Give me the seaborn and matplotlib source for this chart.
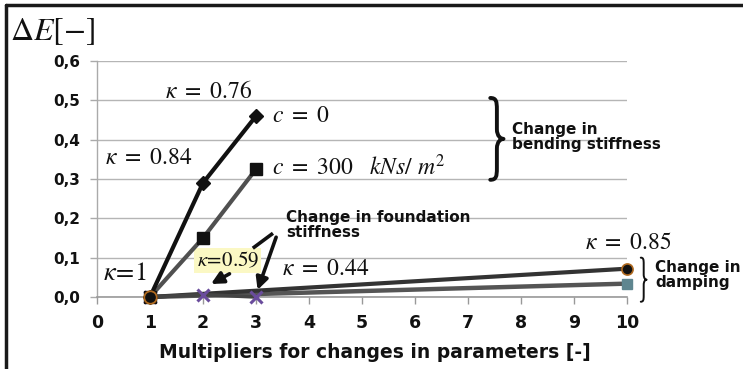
import numpy as np
import pandas as pd
import seaborn as sns
import matplotlib
matplotlib.use("Agg")
import matplotlib.pyplot as plt
from matplotlib.path import Path
from matplotlib.patches import PathPatch
from matplotlib.lines import Line2D

# ---- data -------------------------------------------------------------
bend_x = [1, 2, 3]
bend_c0 = [0.0, 0.29, 0.46]          # c = 0
bend_c300 = [0.0, 0.15, 0.325]       # c = 300 kNs/m^2
found_x = [1, 2, 3]
found_y = [0.0, 0.006, 0.0]
damp_x = [1, 10]
damp_a = [0.0, 0.072]
damp_b = [0.0, 0.034]
xticks = list(range(0, 11))
yticks = [0.0, 0.1, 0.2, 0.3, 0.4, 0.5, 0.6]
ytick_labels = ["0,0", "0,1", "0,2", "0,3", "0,4", "0,5", "0,6"]

sns.set_theme(style="white")
plt.rcParams["font.family"] = ["DejaVu Sans"]
plt.rcParams["mathtext.fontset"] = "stix"

W, H = 743, 369
fig = plt.figure(figsize=(W / 100, H / 100), dpi=100)
ax = fig.add_axes([97 / W, 1 - 297 / H, 530 / W, 236 / H])

# ---- series -----------------------------------------------------------
def draw(x, y, color, lw, marker, ms, mfc, mec, mew=1.0, zorder=3):
    df = pd.DataFrame({"x": x, "y": y})
    sns.lineplot(data=df, x="x", y="y", ax=ax, color=color, lw=lw,
                 marker=marker, markersize=ms, markerfacecolor=mfc,
                 markeredgecolor=mec, markeredgewidth=mew,
                 clip_on=False, zorder=zorder, legend=False)

draw(damp_x, damp_b, "#555555", 3.2, "s", 7, "#5f8690", "#5f8690", zorder=3)
draw(damp_x, damp_a, "#333333", 3.0, "o", 8, "#111111", "#b06a20", 1.2, zorder=3)
draw(found_x, found_y, "#444444", 2.6, "x", 8, "#6a4c9c", "#6a4c9c", 2.2, zorder=4)
draw(bend_x, bend_c300, "#505050", 3.0, "s", 8, "#111111", "#111111", zorder=5)
draw(bend_x, bend_c0, "#111111", 3.0, "D", 7, "#111111", "#111111", zorder=6)
# common origin point
ax.plot([1], [0], "o", ms=9, mfc="#111111", mec="#b06a20", mew=1.3,
        clip_on=False, zorder=7)

# ---- axes -------------------------------------------------------------
ax.set_xlim(0, 10)
ax.set_ylim(0, 0.6)
ax.set_xticks(xticks)
ax.set_yticks(yticks)
ax.set_yticklabels(ytick_labels)
ax.tick_params(axis="x", labelsize=12.5, length=5, width=1, color="#999999",
               direction="out", pad=7)
ax.tick_params(axis="y", labelsize=11, length=5, width=1, color="#aaaaaa",
               direction="out", pad=7)
for lab in ax.get_xticklabels() + ax.get_yticklabels():
    lab.set_fontweight("bold")
    lab.set_color("#111111")
ax.tick_params(axis="both", bottom=True, left=True)
ax.grid(axis="y", color="#b5b5b5", lw=1.0)
ax.grid(axis="x", visible=False)
for s in ["top", "right"]:
    ax.spines[s].set_visible(False)
ax.spines["left"].set_color("#aaaaaa")
ax.spines["bottom"].set_color("#999999")
ax.spines["left"].set_linewidth(1.0)
ax.spines["bottom"].set_linewidth(1.2)
ax.set_xlabel("Multipliers for changes in parameters [-]", fontsize=13.5,
              fontweight="bold", color="#111111")
ax.xaxis.set_label_coords(0.525, -0.195)
ax.set_ylabel("")

# ---- labels -----------------------------------------------------------
ms = dict(fontsize=17, va="center", ha="left", color="#111111")
ax.text(1.28, 0.524, r"$\kappa\ =\ 0.76$", **ms)
ax.text(3.30, 0.462, r"$c\ =\ 0$", **ms)
ax.text(0.15, 0.356, r"$\kappa\ =\ 0.84$", **ms)
ax.text(3.30, 0.33, r"$c\ =\ 300\ \ \ kNs/\ m^2$", **ms)
ax.text(0.11, 0.062, r"$\kappa\!=\!1$", fontsize=19, va="center", ha="left",
        color="#111111")
ax.text(1.88, 0.093, r"$\kappa\!=\!0.59$", fontsize=15, va="center", ha="left",
        color="#111111",
        bbox=dict(boxstyle="square,pad=0.12", fc="#fbf8c4", ec="none"))
ax.text(3.49, 0.074, r"$\kappa\ =\ 0.44$", **ms)
ax.text(9.21, 0.140, r"$\kappa\ =\ 0.85$", **ms)

bs = dict(fontsize=11, fontweight="bold", va="top", ha="left",
          color="#111111", linespacing=1.0)
ax.text(3.57, 0.222, "Change in foundation\nstiffness", **bs)
ax.text(7.83, 0.446, "Change in\nbending stiffness", **bs)
ax.text(10.53, 0.094, "Change in\ndamping", clip_on=False, **bs)

# pointers to the foundation-stiffness points
arrow = dict(arrowstyle="-|>,head_width=0.3,head_length=0.6",
             color="#111111", lw=2.6, shrinkA=0, shrinkB=0)
ax.annotate("", xy=(3.03, 0.018), xytext=(3.38, 0.152), arrowprops=arrow)
ax.annotate("", xy=(2.15, 0.033), xytext=(2.5, 0.059), arrowprops=arrow)
ax.plot([3.32, 2.94], [0.162, 0.124], color="#111111", lw=2.6,
        solid_capstyle="butt", zorder=5)


def brace(x0, y0, y1, w, lw):
    """Right-facing curly brace drawn in data coordinates."""
    ym = (y0 + y1) / 2
    h = y1 - y0
    xm = x0 + w * 0.5
    verts = [
        (x0, y1),
        (xm - w * 0.05, y1), (xm, y1 - h * 0.04), (xm, y1 - h * 0.14),
        (xm, ym + h * 0.12),
        (xm, ym + h * 0.03), (x0 + w * 0.8, ym), (x0 + w, ym),
        (x0 + w * 0.8, ym), (xm, ym - h * 0.03), (xm, ym - h * 0.12),
        (xm, y0 + h * 0.14),
        (xm, y0 + h * 0.04), (xm - w * 0.05, y0), (x0, y0),
    ]
    codes = [Path.MOVETO,
             Path.CURVE4, Path.CURVE4, Path.CURVE4,
             Path.LINETO,
             Path.CURVE4, Path.CURVE4, Path.CURVE4,
             Path.CURVE4, Path.CURVE4, Path.CURVE4,
             Path.LINETO,
             Path.CURVE4, Path.CURVE4, Path.CURVE4]
    ax.add_patch(PathPatch(Path(verts, codes), fc="none", ec="#111111",
                           lw=lw, clip_on=False, zorder=6,
                           capstyle="round", joinstyle="round"))


brace(7.42, 0.298, 0.506, 0.25, 2.8)
brace(10.26, -0.012, 0.1, 0.11, 1.4)

# ---- figure text and frame -------------------------------------------
fig.text(10 / W, 1 - 32 / H, r"$\Delta E[-]$", fontsize=23, va="center",
         ha="left", color="#111111")
fig.add_artist(Line2D([6 / W, 1.0], [1 - 5 / H, 1 - 5 / H],
                      transform=fig.transFigure, color="#1a1a1a", lw=2.5))
fig.add_artist(Line2D([6 / W, 6 / W], [0.0, 1 - 5 / H],
                      transform=fig.transFigure, color="#1a1a1a", lw=2.5))

fig.savefig("out.png", dpi=100)
